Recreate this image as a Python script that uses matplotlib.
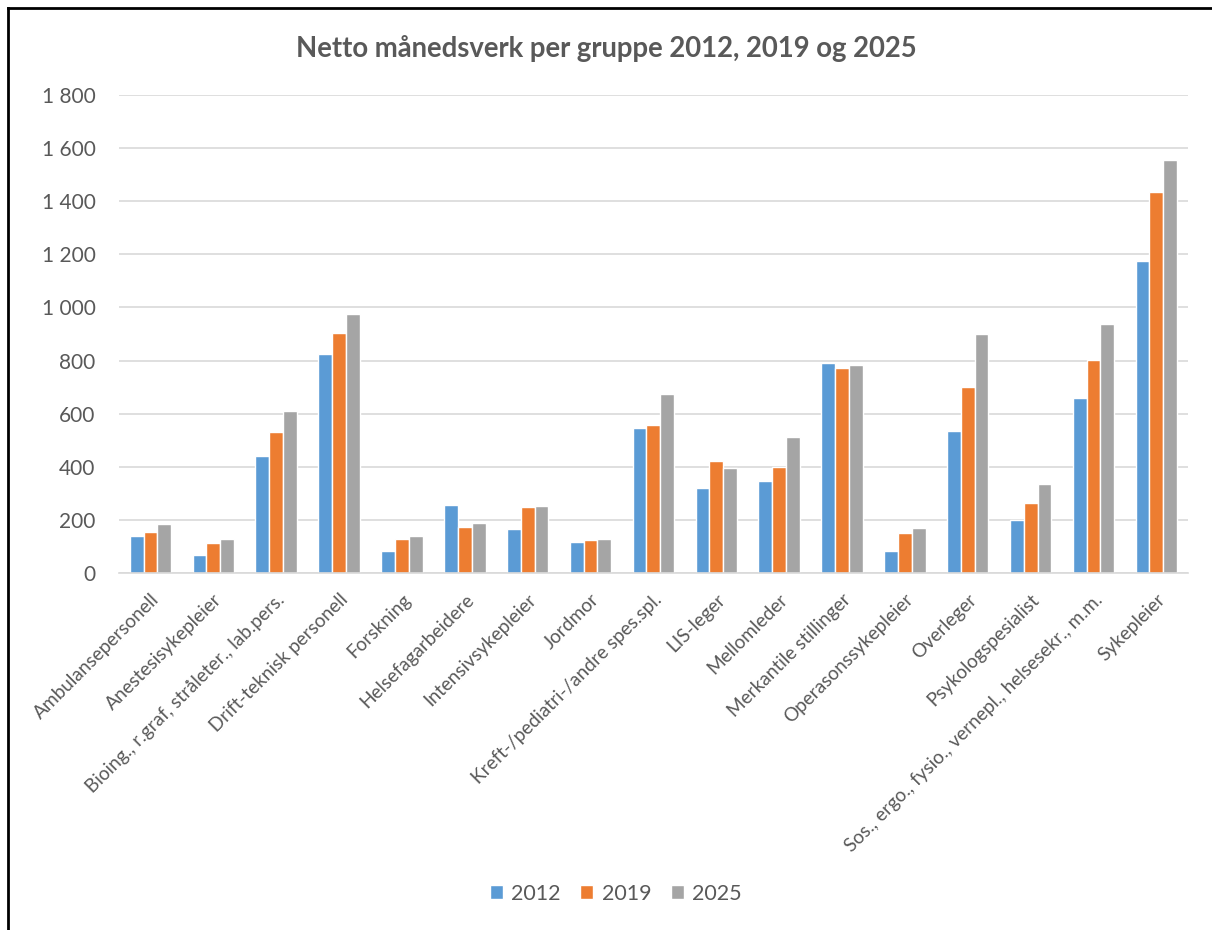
"""Netto månedsverk per gruppe 2012, 2019 og 2025 — grouped bar chart."""

import matplotlib
matplotlib.use("Agg")
import matplotlib.pyplot as plt
import numpy as np
from matplotlib.lines import Line2D
from matplotlib.ticker import FuncFormatter, MultipleLocator

# ─────────────────────────────────────────────────────────────────────────────
# DATA
# ─────────────────────────────────────────────────────────────────────────────

groups = [
    "Ambulansepersonell",
    "Anestesisykepleier",
    "Bioing., r.graf, stråleter., lab.pers.",
    "Drift-teknisk personell",
    "Forskning",
    "Helsefagarbeidere",
    "Intensivsykepleier",
    "Jordmor",
    "Kreft-/pediatri-/andre spes.spl.",
    "LIS-leger",
    "Mellomleder",
    "Merkantile stillinger",
    "Operasonssykepleier",
    "Overleger",
    "Psykologspesialist",
    "Sos., ergo., fysio., vernepl., helsesekr., m.m.",
    "Sykepleier",
]

years = ["2012", "2019", "2025"]

values_2012 = [138, 69, 439, 826, 83, 256, 166, 115, 547, 320, 345, 792, 83, 536, 200, 658, 1175]
values_2019 = [155, 114, 532, 902, 128, 175, 250, 124, 557, 422, 399, 773, 152, 699, 264, 801, 1436]
values_2025 = [184, 128, 609, 974, 139, 187, 253, 128, 675, 394, 512, 782, 169, 901, 335, 936, 1556]

# ─────────────────────────────────────────────────────────────────────────────
# STYLE
# ─────────────────────────────────────────────────────────────────────────────

COLORS = ["#5B9BD5", "#ED7D31", "#A5A5A5"]
TEXT_COLOR = "#595959"
GRID_COLOR = "#D9D9D9"

plt.rcParams["font.family"] = ["Lato", "DejaVu Sans"]


def _space_thousands(value, _pos):
    """Format tick values with a space as thousands separator (1 800)."""
    return f"{int(value):,}".replace(",", " ")


fig = plt.figure(figsize=(12.12, 9.3), dpi=100)
ax = fig.add_axes([0.0982, 0.3839, 0.8818, 0.5139])

x = np.arange(len(groups))
bar_width = 0.22
series = [values_2012, values_2019, values_2025]
for i, (year, vals, color) in enumerate(zip(years, series, COLORS)):
    ax.bar(x + (i - 1) * bar_width, vals, width=bar_width, color=color,
           edgecolor="white", linewidth=1.0, label=year, zorder=3)

ax.set_xlim(-0.5, len(groups) - 0.5)
ax.set_ylim(0, 1800)
ax.yaxis.set_major_locator(MultipleLocator(200))
ax.yaxis.set_major_formatter(FuncFormatter(_space_thousands))
ax.grid(axis="y", color=GRID_COLOR, linewidth=1.2, zorder=0)

for side in ("top", "right", "left"):
    ax.spines[side].set_visible(False)
ax.spines["bottom"].set_color(GRID_COLOR)
ax.spines["bottom"].set_linewidth(1.2)
ax.spines["bottom"].set_zorder(4)

ax.tick_params(axis="y", length=0, pad=17, labelsize=15, labelcolor=TEXT_COLOR)
ax.tick_params(axis="x", length=0, pad=13, labelsize=13.7, labelcolor=TEXT_COLOR)
ax.set_xticks(x)
ax.set_xticklabels(groups, rotation=45, ha="right", rotation_mode="anchor")

fig.text(0.5, 0.948, "Netto månedsverk per gruppe 2012, 2019 og 2025",
         ha="center", va="center", fontsize=19.8, fontweight="bold",
         color=TEXT_COLOR)

fig.legend(loc="center", bbox_to_anchor=(0.508, 0.039), ncol=3, frameon=False,
           fontsize=15.5, labelcolor=TEXT_COLOR, handlelength=0.6,
           handleheight=0.6, handletextpad=0.4, columnspacing=0.9)

# chart border (left and top edges visible in the reference)
fig.add_artist(Line2D([0.0066, 0.0066], [0.0, 0.9914], transform=fig.transFigure,
                      color="black", linewidth=2))
fig.add_artist(Line2D([0.0066, 1.0], [0.9914, 0.9914], transform=fig.transFigure,
                      color="black", linewidth=2))

fig.savefig("out.png", dpi=100, facecolor="white")
